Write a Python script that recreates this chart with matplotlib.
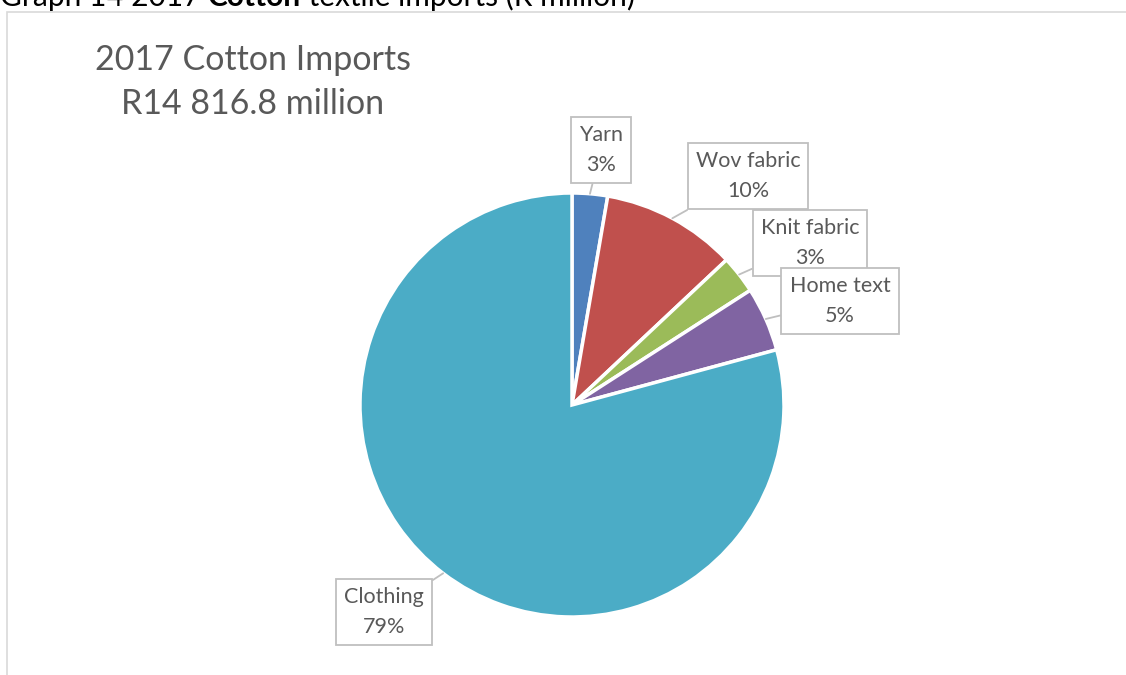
import matplotlib
matplotlib.use("Agg")
import matplotlib.pyplot as plt
import numpy as np
from matplotlib.patches import Rectangle

# 2017 cotton textile imports, R million (total R14 816.8 million)
categories = ["Yarn", "Wov fabric", "Knit fabric", "Home text", "Clothing"]
values = [400.0, 1526.0, 430.0, 726.0, 11734.8]
colors = ["#4F81BD", "#C0504D", "#9BBB59", "#8064A2", "#4BACC6"]
label_pos = [(601, 525), (748, 499), (810, 432), (840, 374), (384, 63)]

plt.rcParams["font.family"] = ["Lato", "DejaVu Sans"]
fig = plt.figure(figsize=(11.26, 6.75), dpi=100)
ax = fig.add_axes([0, 0, 1, 1])
ax.set_xlim(0, 1126); ax.set_ylim(0, 675)
ax.set_aspect("equal"); ax.axis("off")

# chart frame
ax.add_patch(Rectangle((7, -10), 1130, 675 - 12 + 10, fill=False,
                       edgecolor="#D9D9D9", lw=1.2))

# caption above the chart (cut off at top, as in the source)
t1 = ax.text(0, 669, "Graph 14 2017 ", fontsize=21.5, color="black", va="baseline")
t2 = ax.annotate("Cotton", xy=(1, 0), xycoords=t1, va="bottom", ha="left",
                 fontsize=21.5, fontweight="bold", color="black")
ax.annotate(" textile imports (R million)", xy=(1, 0), xycoords=t2,
            va="bottom", ha="left", fontsize=21.5, color="black")

ax.text(253, 675 - 60, "2017 Cotton Imports", fontsize=24.5, color="#595959",
        ha="center", va="center")
ax.text(253, 675 - 104, "R14 816.8 million", fontsize=24.5, color="#595959",
        ha="center", va="center")

cx, cy, r = 572, 270, 212
wedges, _ = ax.pie(values, colors=colors, startangle=90, counterclock=False,
                   center=(cx, cy), radius=r, frame=True,
                   wedgeprops=dict(edgecolor="white", linewidth=2.5))
ax.set_xlim(0, 1126); ax.set_ylim(0, 675); ax.axis("off")

total = sum(values)
for i, (w, name, v) in enumerate(zip(wedges, categories, values)):
    ang = np.deg2rad((w.theta1 + w.theta2) / 2)
    tip = (cx + r * np.cos(ang), cy + r * np.sin(ang))
    ax.annotate(f"{name}\n{v / total * 100:.0f}%", xy=tip, xytext=label_pos[i],
                ha="center", va="center", fontsize=15.5, color="#595959",
                linespacing=1.65, zorder=5 + i,
                bbox=dict(boxstyle="square,pad=0.38", fc="white",
                          ec="#BFBFBF", lw=1.3),
                arrowprops=dict(arrowstyle="-", color="#BFBFBF", lw=1.3,
                                shrinkA=0, shrinkB=0))

fig.savefig("out.png", dpi=100)
